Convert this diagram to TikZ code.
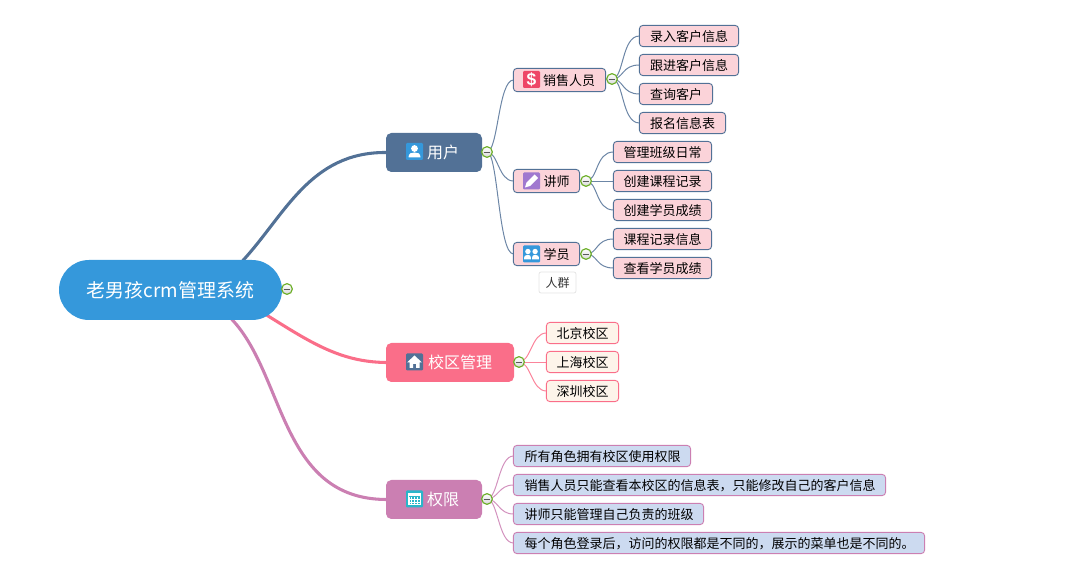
\documentclass[tikz,border=0pt]{standalone}
\usepackage{fontspec}
\setmainfont{Noto Sans CJK SC}
\newfontfamily\iconfont{Liberation Sans}
\usetikzlibrary{calc}
\pgfdeclarelayer{background}
\pgfsetlayers{background,main}
\definecolor{rootblue}{HTML}{3598DB}
\definecolor{slate}{HTML}{527196}
\definecolor{rose}{HTML}{FA6E89}
\definecolor{orchid}{HTML}{CB7FB2}
\definecolor{pinkfill}{HTML}{FBD3D9}
\definecolor{creamfill}{HTML}{FDF4EA}
\definecolor{bluefill}{HTML}{CCDAF0}
\definecolor{togglegreen}{HTML}{6FB02C}
\definecolor{calteal}{HTML}{2BB5C9}
\definecolor{dollarred}{HTML}{EE4667}
\definecolor{penpurple}{HTML}{A078CF}
\newcommand{\pad}[1]{\hspace*{\dimexpr #1pt*3/4\relax}}
\tikzset{
  x=0.75pt, y=-0.75pt,
  sized/.style 2 args={minimum width=#1*0.75pt, minimum height=#2*0.75pt, inner sep=0pt, outer sep=0pt},
  lsized/.style 2 args={minimum width=(#1-0.9)*0.75pt, minimum height=(#2-0.9)*0.75pt, inner sep=0pt, outer sep=0pt,
    text height=9.5pt, text depth=0.6pt},
  rootbox/.style={fill=rootblue, text=white, rounded corners=22.5pt, font=\fontsize{14.2}{16}\selectfont},
  mainbox/.style={fill=#1, text=white, rounded corners=4pt, font=\fontsize{12}{14}\selectfont},
  leafbox/.style 2 args={draw=#1, fill=#2, line width=0.7pt, rounded corners=2.5pt, text=black, font=\fontsize{9.75}{12}\selectfont},
  tagbox/.style={draw=black!10, fill=white, line width=0.6pt, rounded corners=1.5pt, text=black!80, font=\fontsize{9}{11}\selectfont},
  toggle/.style={circle, draw=togglegreen, line width=0.9pt, top color=white, bottom color=black!15,
    minimum size=8pt, inner sep=0pt, outer sep=0pt,
    path picture={\draw[black!65, line width=0.7pt] ([xshift=-2.6pt]path picture bounding box.center) -- ([xshift=2.6pt]path picture bounding box.center);}},
  trunk/.style={draw=#1, line width=2.3pt, line cap=round},
  twig/.style={draw=#1!85, line width=0.75pt},
  pics/tile/.style={code={\fill[#1, rounded corners=0.8pt] (-8.5,-8.5) rectangle (8.5,8.5);}},
  pics/personicon/.style={code={
    \pic {tile=rootblue};
    \fill[white] (0,-3) circle[radius=3.4];
    \fill[white] (-6,6) .. controls (-6,1.5) and (-3,1) .. (0,1) .. controls (3,1) and (6,1.5) .. (6,6) -- cycle;}},
  pics/groupicon/.style={code={
    \pic {tile=rootblue};
    \fill[white] (-3.6,-2.5) circle[radius=2.7];
    \fill[white] (3.6,-2.5) circle[radius=2.7];
    \fill[white] (-7.5,5.5) .. controls (-7.5,1.5) and (-6,0.8) .. (-3.6,0.8) .. controls (-1.5,0.8) and (-0.6,1.5) .. (-0.6,5.5) -- cycle;
    \fill[white] (0.6,5.5) .. controls (0.6,1.5) and (1.5,0.8) .. (3.6,0.8) .. controls (6,0.8) and (7.5,1.5) .. (7.5,5.5) -- cycle;}},
  pics/pencilicon/.style={code={
    \pic {tile=penpurple};
    \fill[white] (-6.5,6.5) -- (-5,1.5) -- (3,-6.5) -- (6.5,-3) -- (-1.5,5) -- cycle;}},
  pics/houseicon/.style={code={
    \pic {tile=slate};
    \fill[white] (0,-6.5) -- (7.5,0.5) -- (5,0.5) -- (5,6) -- (1.5,6) -- (1.5,2) -- (-1.5,2) -- (-1.5,6) -- (-5,6) -- (-5,0.5) -- (-7.5,0.5) -- cycle;}},
  pics/calendaricon/.style={code={
    \pic {tile=calteal};
    \fill[white] (-6.5,-6) rectangle (6.5,6.5);
    \fill[calteal] (-5.5,-2.5) rectangle (5.5,-3);
    \foreach \cx in {-4.2,-1.4,1.4,4.2}{\foreach \cy in {-1,1.8,4.6}{
      \fill[calteal] (\cx-0.8,\cy-0.8) rectangle (\cx+0.8,\cy+0.8);}}}},
}
\begin{document}
\begin{tikzpicture}
\useasboundingbox (0,0) rectangle (1065,584);

% central topic
\node[rootbox, sized={223}{60}] (root) at (170.5,290) {老男孩crm管理系统};
\node[toggle] (rootT) at (287,289) {};

% branch: users
\node[mainbox=slate, sized={96}{39}] (user) at (434,152.5) {\pad{18}用户};
\node[toggle] (userT) at (487,152) {};
\node[leafbox={slate}{pinkfill}, lsized={93}{24}] (sales) at (559.5,80) {\pad{19}销售人员};
\node[toggle] (salesT) at (612,79) {};
\node[leafbox={slate}{pinkfill}, lsized={100}{22}] (s1) at (689,36) {录入客户信息};
\node[leafbox={slate}{pinkfill}, lsized={100}{22}] (s2) at (689,65) {跟进客户信息};
\node[leafbox={slate}{pinkfill}, lsized={74}{22}] (s3) at (676,94) {查询客户};
\node[leafbox={slate}{pinkfill}, lsized={87}{22}] (s4) at (682.5,123) {报名信息表};
\node[leafbox={slate}{pinkfill}, lsized={67}{24}] (teacher) at (546.5,181) {\pad{20}讲师};
\node[toggle] (teacherT) at (586,181) {};
\node[leafbox={slate}{pinkfill}, lsized={99}{22}] (t1) at (662.5,152) {管理班级日常};
\node[leafbox={slate}{pinkfill}, lsized={99}{22}] (t2) at (662.5,181) {创建课程记录};
\node[leafbox={slate}{pinkfill}, lsized={99}{22}] (t3) at (662.5,210) {创建学员成绩};
\node[leafbox={slate}{pinkfill}, lsized={67}{24}] (student) at (546.5,254) {\pad{20}学员};
\node[toggle] (studentT) at (586,254) {};
\node[leafbox={slate}{pinkfill}, lsized={99}{22}] (u1) at (662.5,239) {课程记录信息};
\node[leafbox={slate}{pinkfill}, lsized={99}{22}] (u2) at (662.5,268) {查看学员成绩};
\node[tagbox, sized={37}{21}] (crowd) at (557.5,282.5) {人群};

% branch: campuses
\node[mainbox=rose, sized={128}{39}] (campus) at (450,362.5) {\pad{20}校区管理};
\node[toggle] (campusT) at (519,362) {};
\node[leafbox={rose}{creamfill}, lsized={73}{22}] (c1) at (582.5,333) {北京校区};
\node[leafbox={rose}{creamfill}, lsized={73}{22}] (c2) at (582.5,362) {上海校区};
\node[leafbox={rose}{creamfill}, lsized={73}{22}] (c3) at (582.5,391) {深圳校区};

% branch: permissions
\node[mainbox=orchid, sized={96}{39}] (perm) at (434,499.5) {\pad{18}权限};
\node[toggle] (permT) at (487,499) {};
\node[leafbox={orchid}{bluefill}, lsized={178}{22}] (p1) at (602,456) {\pad{1}所有角色拥有校区使用权限};
\node[leafbox={orchid}{bluefill}, lsized={373}{22}] (p2) at (699.5,485) {\pad{1}销售人员只能查看本校区的信息表，只能修改自己的客户信息};
\node[leafbox={orchid}{bluefill}, lsized={191}{22}] (p3) at (608.5,514) {\pad{1}讲师只能管理自己负责的班级};
\node[leafbox={orchid}{bluefill}, lsized={412}{22}] (p4) at (719,543) {\pad{1}每个角色登录后，访问的权限都是不同的，展示的菜单也是不同的。};

% topic icons
\pic at (414.5,151.5) {personicon};
\pic at (531.5,79.5) {tile=dollarred};
\node[text=white, font=\iconfont\bfseries\fontsize{13}{13}\selectfont, inner sep=0pt] (dollar) at (531.5,79.5) {\$};
\pic at (531.5,181) {pencilicon};
\pic at (531.5,254) {groupicon};
\pic at (414.5,362) {houseicon};
\pic at (414.5,499) {calendaricon};

% connectors sit behind the boxes
\begin{pgfonlayer}{background}
  \draw[trunk=slate] ($(root.north)+(72,1)$) .. controls (285,215) and (310,152) .. (user.west);
  \draw[trunk=rose] ($(root.south)+(96,-5)$) .. controls (310,342) and (340,362) .. (campus.west);
  \draw[trunk=orchid] ($(root.south)+(61,-1)$) .. controls (285,375) and (280,499) .. (perm.west);

  \foreach \from/\to in {userT/sales, userT/teacher, userT/student}
    \draw[twig=slate] (\from.center) .. controls +(11,0) and +(-15,0) .. (\to.west);
  \foreach \to in {s1,s2,s3,s4}
    \draw[twig=slate] (salesT.center) .. controls +(12,0) and +(-18,0) .. (\to.west);
  \foreach \to in {t1,t3}
    \draw[twig=slate] (teacherT.center) .. controls +(12,0) and +(-18,0) .. (\to.west);
  % level links are nudged half a pixel so they stay crisp
  \draw[twig=slate] ($(teacherT.center)+(0,.5)$) -- ($(t2.west)+(0,.5)$);
  \foreach \to in {u1,u2}
    \draw[twig=slate] (studentT.center) .. controls +(12,0) and +(-18,0) .. (\to.west);
  \foreach \to in {c1,c3}
    \draw[twig=rose] (campusT.center) .. controls +(12,0) and +(-15,0) .. (\to.west);
  \draw[twig=rose] ($(campusT.center)+(0,.5)$) -- ($(c2.west)+(0,.5)$);
  \foreach \to in {p1,p2,p3,p4}
    \draw[twig=orchid] (permT.center) .. controls +(11,0) and +(-15,0) .. (\to.west);
\end{pgfonlayer}
\end{tikzpicture}
\end{document}
